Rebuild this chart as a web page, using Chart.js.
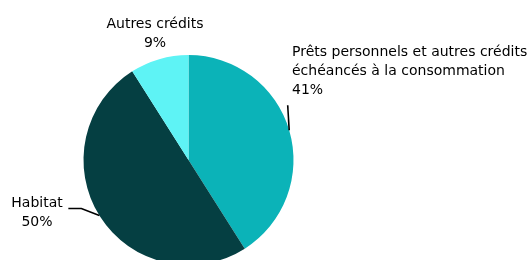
<!DOCTYPE html>
<html>
<head>
<meta charset="utf-8">
<script src="https://cdn.jsdelivr.net/npm/chart.js@4.4.1/dist/chart.umd.min.js"></script>
<style>
  html, body { margin: 0; padding: 0; background: #fff; overflow: hidden; }
  #wrap { width: 529px; height: 320px; position: relative; }
</style>
</head>
<body>
<div id="wrap"><canvas id="pie"></canvas></div>
<script>
// Données
const labels = ['Prêts personnels et autres crédits échéancés à la consommation', 'Habitat', 'Autres crédits'];
const labelLines = [
  ['Prêts personnels et autres crédits', 'échéancés à la consommation'],
  ['Habitat'],
  ['Autres crédits']
];
const shares = [41, 50, 9];
const colors = ['#0BB3B8', '#053F42', '#5EF3F5'];

const FONT = '14px "DejaVu Sans", sans-serif';

// position du texte de chaque étiquette
const labelLayout = [
  { x: 292, y: 52, align: 'left' },
  { x: 37, y: 203, align: 'center' },
  { x: 155, y: 24, align: 'center' }
];

const pieLabels = {
  id: 'pieLabels',
  afterDraw(chart) {
    const c = chart.ctx;
    const a0 = chart.getDatasetMeta(0).data[0];
    const cx = a0.x, cy = a0.y, r = a0.outerRadius;
    c.save();
    c.font = FONT;
    c.fillStyle = '#000';
    c.textBaseline = 'middle';
    labelLayout.forEach((L, i) => {
      c.textAlign = L.align;
      const lines = labelLines[i].concat([shares[i] + '%']);
      lines.forEach((t, k) => c.fillText(t, L.x, L.y + k * 19));
    });
    // traits de rappel
    c.strokeStyle = '#000';
    c.lineWidth = 1.6;
    // prêts
    let ang = Math.atan2(-30, 101.5);
    let ex = cx + r * Math.cos(ang), ey = cy + r * Math.sin(ang);
    c.beginPath(); c.moveTo(ex, ey); c.lineTo(ex - 1.5, ey - 25); c.stroke();
    // habitat
    ang = Math.atan2(56, -90);
    ex = cx + r * Math.cos(ang); ey = cy + r * Math.sin(ang);
    c.beginPath(); c.moveTo(ex, ey); c.lineTo(ex - 18, ey - 7); c.lineTo(ex - 31, ey - 7); c.stroke();
    c.restore();
  }
};

new Chart(document.getElementById('pie'), {
  type: 'pie',
  data: {
    labels,
    datasets: [{ data: shares, backgroundColor: colors, borderWidth: 0 }]
  },
  options: {
    responsive: true,
    maintainAspectRatio: false,
    animation: false,
    layout: { padding: { left: 83.5, right: 235.5, top: 55, bottom: 55 } },
    plugins: { legend: { display: false }, tooltip: { enabled: false } }
  },
  plugins: [pieLabels]
});
</script>
</body>
</html>
